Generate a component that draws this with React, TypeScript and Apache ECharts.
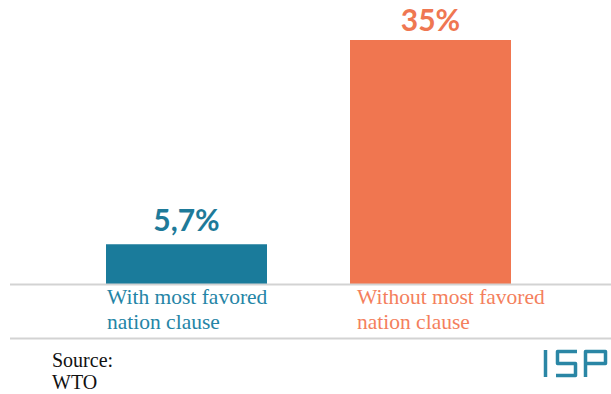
import React, { useEffect, useRef } from "react";
import * as echarts from "echarts";

const categories = ["With most favored\nnation clause", "Without most favored\nnation clause"];
const values = [5.7, 35];
const valueLabels = ["5,7%", "35%"];
const barColors = ["#1a7b9b", "#f07650"];
const valueTextColors = ["#1e7a99", "#ef7752"];
const categoryTextColors = ["#2585a6", "#f47f5d"];
const sourceLines = ["Source:", "WTO"];
const logoText = "ISP";

export default function App() {
  const ref = useRef<HTMLDivElement>(null);
  useEffect(() => {
    if (!ref.current) return;
    const chart = echarts.init(ref.current, undefined, { renderer: "svg" });
    const logoColor = "#2a86a5";
    chart.setOption({
      animation: false,
      backgroundColor: "#ffffff",
      grid: { left: 64.5, right: 58.5, top: 40, bottom: 110 },
      xAxis: {
        type: "category",
        data: categories,
        axisLine: { show: false },
        axisTick: { show: false },
        axisLabel: { show: false },
      },
      yAxis: {
        type: "value",
        min: 0,
        max: 35,
        show: false,
        splitLine: { show: false },
      },
      series: [
        {
          type: "bar",
          barWidth: 161,
          barGap: "-100%",
          data: values.map((v, i) => ({
            value: v,
            itemStyle: { color: barColors[i] },
            label: {
              show: true,
              position: "top",
              distance: i === 0 ? 10 : 6,
              formatter: valueLabels[i],
              color: valueTextColors[i],
              fontFamily: "Lato",
              fontWeight: "bold",
              fontSize: 30,
            },
          })),
          z: 2,
        },
        {
          type: "bar",
          barWidth: 161,
          barGap: "-100%",
          silent: true,
          data: values.map((v, i) => ({
            value: v,
            itemStyle: { color: "rgba(0,0,0,0)" },
            label: {
              show: true,
              position: "bottom",
              distance: 0.5,
              align: "left",
              offset: [i === 0 ? -79.5 : -73.5, 0],
              formatter: categories[i],
              color: categoryTextColors[i],
              fontFamily: "Liberation Serif",
              fontSize: 21.5,
              lineHeight: 25,
            },
          })),
          z: 1,
        },
      ],
      graphic: [
        {
          type: "line",
          shape: { x1: 10, y1: 284.5, x2: 611, y2: 284.5 },
          style: { stroke: "#d3d3d3", lineWidth: 2 },
          z: 10,
        },
        {
          type: "line",
          shape: { x1: 10, y1: 338.5, x2: 611, y2: 338.5 },
          style: { stroke: "#d3d3d3", lineWidth: 2 },
        },
        {
          type: "text",
          left: 52,
          top: 349,
          style: {
            text: sourceLines.join("\n"),
            font: '20px "Liberation Serif"',
            lineHeight: 22,
            fill: "#111111",
          },
        },
        {
          type: "group",
          name: logoText,
          children: [
            {
              type: "line",
              shape: { x1: 545.5, y1: 350, x2: 545.5, y2: 377 },
              style: { stroke: logoColor, lineWidth: 3.5 },
            },
            {
              type: "polyline",
              shape: {
                points: [
                  [577, 351.5],
                  [557.5, 351.5],
                  [557.5, 363.5],
                  [575.5, 363.5],
                  [575.5, 375.5],
                  [556, 375.5],
                ],
              },
              style: { stroke: logoColor, lineWidth: 3.5, fill: "none", lineJoin: "round" },
            },
            {
              type: "polyline",
              shape: {
                points: [
                  [585.5, 377],
                  [585.5, 351.5],
                  [605.5, 351.5],
                  [605.5, 363.5],
                  [585.5, 363.5],
                ],
              },
              style: { stroke: logoColor, lineWidth: 3.5, fill: "none", lineJoin: "round" },
            },
          ],
        },
      ],
    });
    return () => chart.dispose();
  }, []);
  return (
    <div
      ref={ref}
      style={{ position: "absolute", left: 0, top: 0, width: 611, height: 394 }}
    />
  );
}
